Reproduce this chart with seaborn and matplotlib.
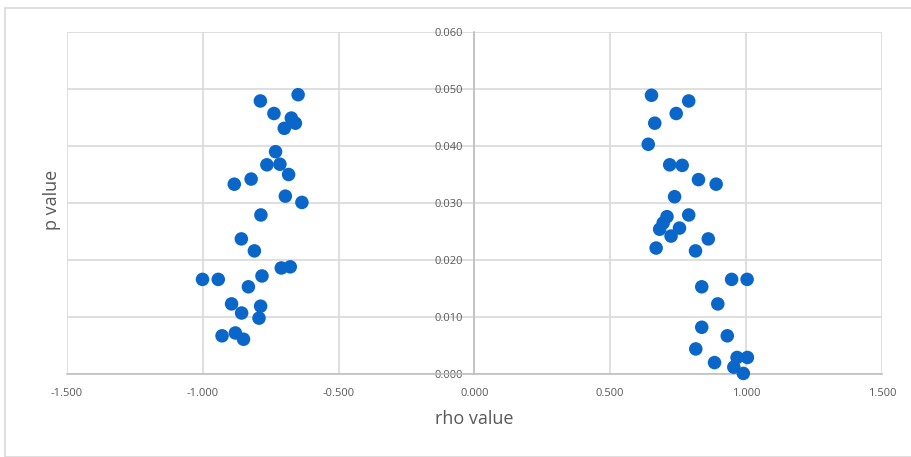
import pandas as pd
import matplotlib
matplotlib.use("Agg")
import matplotlib.pyplot as plt
import seaborn as sns
from matplotlib.patches import Rectangle
from matplotlib.ticker import FormatStrFormatter, MultipleLocator

# values
rho_neg = [-0.788, -0.649, -0.738, -0.674, -0.659, -0.700, -0.732, -0.764, -0.716, -0.684,
           -0.822, -0.884, -0.696, -0.635, -0.786, -0.858, -0.810, -0.711, -0.678, -1.001,
           -0.943, -0.782, -0.832, -0.894, -0.787, -0.857, -0.793, -0.929, -0.880, -0.850]
p_neg = [0.0479, 0.0490, 0.0457, 0.0449, 0.0440, 0.0431, 0.0390, 0.0367, 0.0368, 0.0350,
         0.0342, 0.0333, 0.0312, 0.0301, 0.0279, 0.0237, 0.0216, 0.0186, 0.0188, 0.0166,
         0.0166, 0.0172, 0.0153, 0.0123, 0.0119, 0.0107, 0.0098, 0.0067, 0.0072, 0.0061]

rho_pos = [0.652, 0.789, 0.743, 0.664, 0.640, 0.719, 0.765, 0.825, 0.890, 0.737,
           0.789, 0.709, 0.695, 0.682, 0.755, 0.724, 0.861, 0.669, 0.814, 0.947,
           1.004, 0.837, 0.896, 0.837, 0.931, 0.815, 0.967, 1.005, 0.884, 0.955, 0.990]
p_pos = [0.0489, 0.0479, 0.0457, 0.0440, 0.0403, 0.0367, 0.0366, 0.0341, 0.0333, 0.0311,
         0.0279, 0.0276, 0.0265, 0.0254, 0.0256, 0.0242, 0.0237, 0.0221, 0.0216, 0.0166,
         0.0166, 0.0153, 0.0123, 0.0082, 0.0067, 0.0044, 0.0029, 0.0029, 0.0020, 0.0012, 0.0001]

x_ticks = [-1.5, -1.0, -0.5, 0.0, 0.5, 1.0, 1.5]

df = pd.DataFrame({"rho": rho_neg + rho_pos, "p": p_neg + p_pos})

sns.set_style("white")
plt.rcParams["font.family"] = ["Open Sans", "DejaVu Sans"]

fig = plt.figure(figsize=(9.11, 4.57), dpi=100)
ax = fig.add_axes([0.0735, 0.1816, 0.8945, 0.7484])

# outer chart border like the Excel chart area
fig.patches.append(Rectangle((5 / 911, 0), 1, 1 - 8 / 457, transform=fig.transFigure,
                             fill=False, edgecolor="#d9d9d9", linewidth=1.2))

sns.scatterplot(data=df, x="rho", y="p", ax=ax, s=95, color="#0a67c9",
                edgecolor="none", clip_on=False, zorder=3)

ax.set_xlim(-1.5, 1.5)
ax.set_ylim(0, 0.06)
ax.set_xticks(x_ticks)
ax.yaxis.set_major_locator(MultipleLocator(0.01))
ax.xaxis.set_major_formatter(FormatStrFormatter("%.3f"))
ax.yaxis.set_major_formatter(FormatStrFormatter("%.3f"))

ax.grid(True, color="#d9d9d9", linewidth=1.2)
ax.set_axisbelow(True)
for side in ["top", "right"]:
    ax.spines[side].set_visible(False)
ax.spines["left"].set_position(("data", 0))
ax.spines["left"].set_color("#bfbfbf")
ax.spines["bottom"].set_color("#bfbfbf")
ax.spines["left"].set_linewidth(1.2)
ax.spines["bottom"].set_linewidth(1.2)

ax.tick_params(axis="y", length=0, pad=8, labelsize=8, labelcolor="#595959")
ax.tick_params(axis="x", length=0, pad=10, labelsize=8, labelcolor="#595959")

ax.set_xlabel("rho value", fontsize=13, color="#595959", labelpad=8)
ax.set_ylabel("")
fig.text(52 / 911, 1 - 200 / 457, "p value", rotation=90, fontsize=13,
         color="#595959", ha="center", va="center")

fig.savefig("out.png", dpi=100)
